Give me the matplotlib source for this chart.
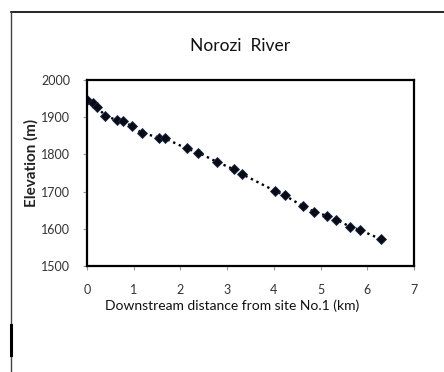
import matplotlib
matplotlib.use("Agg")
import matplotlib.pyplot as plt
from matplotlib.lines import Line2D

distance_km = [0.0, 0.12, 0.22, 0.39, 0.64, 0.76, 0.96, 1.17, 1.55, 1.67, 2.13, 2.38,
               2.78, 3.14, 3.32, 4.02, 4.23, 4.62, 4.86, 5.13, 5.34, 5.63, 5.84, 6.29]
elevation_m = [1946, 1939, 1927, 1904, 1892, 1891, 1876, 1858, 1845, 1843, 1816, 1805,
               1780, 1760, 1747, 1702, 1690, 1661, 1646, 1635, 1624, 1606, 1597, 1572]
x_ticks = [0, 1, 2, 3, 4, 5, 6, 7]
y_ticks = [1500, 1600, 1700, 1800, 1900, 2000]
title = "Norozi  River"
x_label = "Downstream distance from site No.1 (km)"
y_label = "Elevation (m)"

plt.rcParams['font.family'] = ['Lato', 'DejaVu Sans']

W, H = 444, 372
fig = plt.figure(figsize=(W / 100, H / 100), dpi=100)
ax = fig.add_axes([87 / W, 1 - 266 / H, (414 - 87) / W, (266 - 80) / H])

ax.plot(distance_km, elevation_m, linestyle=(0, (1, 1.6)), color='black', linewidth=1.7,
        marker='D', markersize=4.6, markerfacecolor='#0a0a14', markeredgecolor='#1a2a4a',
        markeredgewidth=0.6)

ax.set_xlim(0, 7)
ax.set_ylim(1500, 2000)
ax.set_xticks(x_ticks)
ax.set_yticks(y_ticks)
ax.tick_params(direction='out', length=3, width=0.8, color='#999999',
               labelsize=9, labelcolor='#333333')
ax.tick_params(axis='x', pad=10)
ax.tick_params(axis='y', pad=9)
for s in ax.spines.values():
    s.set_color('black')
    s.set_linewidth(1.6)

fig.text(240 / W, 1 - 46 / H, title, ha='center', va='center', fontsize=12.5, color='#111111')
fig.text(232 / W, 1 - 306 / H, x_label, ha='center', va='center', fontsize=10, color='#111111')
fig.text(31 / W, 1 - 163 / H, y_label, ha='center', va='center', fontsize=11,
         rotation=90, color='#222222', fontweight='bold')

# outer chart frame
fig.add_artist(Line2D([11 / W, 1.0], [1 - 12 / H, 1 - 12 / H], color='black', linewidth=1.2,
                      transform=fig.transFigure))
fig.add_artist(Line2D([11 / W, 11 / W], [1 - 12 / H, 0.0], color='#444444', linewidth=1.0,
                      transform=fig.transFigure))
fig.add_artist(Line2D([11 / W, 11 / W], [1 - 325 / H, 1 - 355 / H], color='black', linewidth=2.2,
                      transform=fig.transFigure))

fig.savefig("out.png", dpi=100, facecolor='white')
